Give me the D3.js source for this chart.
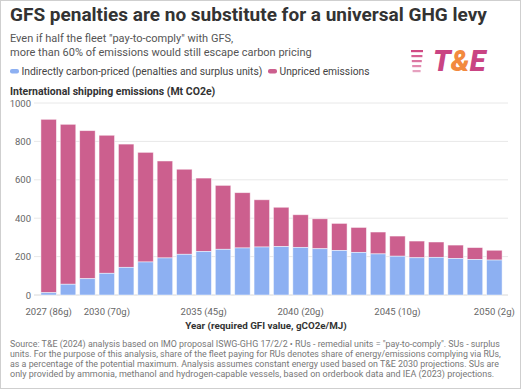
<!DOCTYPE html>
<html>
<head>
<meta charset="utf-8">
<script src="https://cdn.jsdelivr.net/npm/d3@7"></script>
<style>
  body { margin: 0; background: #fff; }
  svg { font-family: Roboto, "Noto Sans", sans-serif; }
</style>
</head>
<body>
<div id="chart"></div>
<script>
// Chart values
const years = d3.range(2027, 2051);
const gfiLabels = { 2027: "86g", 2030: "70g", 2035: "45g", 2040: "20g", 2045: "10g", 2050: "2g" };
const priced = [12, 56, 85, 113, 144, 172, 193, 212, 227, 238, 245, 250,
                252, 248, 241, 232, 222, 214, 202, 194, 196, 190, 185, 182];
const totals = [915, 889, 856, 832, 786, 743, 698, 655, 609, 571, 533, 496,
                457, 418, 397, 373, 352, 328, 307, 281, 276, 260, 247, 233];
const yTicks = [0, 200, 400, 600, 800, 1000];

const colors = { priced: "#8db0f2", unpriced: "#cc5f8e" };

const width = 521, height = 389;
const margin = { top: 103, right: 13, bottom: 94, left: 36 };

const svg = d3.select("#chart")
    .append("svg")
    .attr("width", width)
    .attr("height", height);

// frame
svg.append("rect")
    .attr("x", 0.5).attr("y", 0.5)
    .attr("width", width - 1).attr("height", height - 1)
    .attr("fill", "#fff")
    .attr("stroke", "#cfcfcf");

// shrink the font of a text until it fits a target width
function fitText(sel, w) {
    const len = sel.node().getComputedTextLength();
    if (len > w) {
        const fs = +sel.attr("font-size");
        sel.attr("font-size", (fs * w / len).toFixed(2));
    }
}

// Title and subtitle
svg.append("text")
    .attr("x", 10).attr("y", 21)
    .attr("font-size", 19).attr("font-weight", 700)
    .attr("fill", "#333")
    .text("GFS penalties are no substitute for a universal GHG levy");

["Even if half the fleet \"pay-to-comply\" with GFS,",
 "more than 60% of emissions would still escape carbon pricing"].forEach((t, i) => {
    svg.append("text")
        .attr("x", 10).attr("y", 42 + i * 13.5)
        .attr("font-size", 11)
        .attr("fill", "#555")
        .text(t);
});

// Legend
const legend = [
    { label: "Indirectly carbon-priced (penalties and surplus units)", color: colors.priced, x: 10, w: 241 },
    { label: "Unpriced emissions", color: colors.unpriced, x: 268, w: 90 }
];
legend.forEach(l => {
    svg.append("rect")
        .attr("x", l.x).attr("y", 69)
        .attr("width", 9).attr("height", 4.5)
        .attr("rx", 2)
        .attr("fill", l.color);
    const t = svg.append("text")
        .attr("x", l.x + 11.5).attr("y", 75)
        .attr("font-size", 11)
        .attr("fill", "#444")
        .text(l.label);
    fitText(t, l.w);
});

// T&E logo
const logo = svg.append("g").attr("transform", "translate(411,48)");
[[0, 12], [5, 11], [10, 10], [15, 9], [20, 8]].forEach(([dy, w], i) => {
    logo.append("rect")
        .attr("x", 12 - w - dy * 0.12).attr("y", dy + 2)
        .attr("width", w).attr("height", 2.2)
        .attr("fill", "#d04a84")
        .attr("opacity", 1 - i * 0.12);
});
const logoText = logo.append("text")
    .attr("x", 22).attr("y", 23)
    .attr("font-size", 29).attr("font-weight", 900)
    .attr("font-style", "italic");
logoText.append("tspan").attr("fill", "#c94483").text("T");
logoText.append("tspan").attr("fill", "#f28a3f").text("&");
logoText.append("tspan").attr("fill", "#c94483").text("E");

// Axis title
svg.append("text")
    .attr("x", 10).attr("y", 95)
    .attr("font-size", 10.5).attr("font-weight", 700)
    .attr("fill", "#333")
    .text("International shipping emissions (Mt CO2e)");

const innerW = width - margin.left - margin.right;
const innerH = 295 - margin.top;

const g = svg.append("g")
    .attr("transform", "translate(" + margin.left + "," + margin.top + ")");

const x = d3.scaleBand()
    .domain(years)
    .range([2, innerW - 3])
    .paddingInner(0.2)
    .paddingOuter(0.15);

const y = d3.scaleLinear()
    .domain([0, 1000])
    .range([innerH, 0]);

// Grid
g.selectAll(".grid")
    .data(yTicks)
    .enter()
    .append("line")
    .attr("x1", -2).attr("x2", innerW)
    .attr("y1", d => y(d)).attr("y2", d => y(d))
    .attr("stroke", d => d === 0 ? "#d8d8d8" : "#e8e8e8")
    .attr("stroke-width", 1);

// Y axis labels
const yAxis = g.append("g")
    .call(d3.axisLeft(y).tickValues(yTicks).tickFormat(d3.format("d")).tickSize(0).tickPadding(5));
yAxis.select(".domain").remove();
yAxis.selectAll("text")
    .attr("font-size", 9.5)
    .attr("font-family", "Roboto, sans-serif")
    .attr("fill", "#666");

const rows = years.map((yr, i) => ({ year: yr, priced: priced[i], total: totals[i] }));

// Unpriced (top segment)
g.selectAll(".unpriced")
    .data(rows)
    .enter()
    .append("rect")
    .attr("class", "unpriced")
    .attr("x", d => x(d.year))
    .attr("width", x.bandwidth())
    .attr("y", d => y(d.total))
    .attr("height", d => y(d.priced) - y(d.total))
    .attr("fill", colors.unpriced)
    .attr("stroke", "#fff")
    .attr("stroke-opacity", 0.6)
    .attr("stroke-width", 0.8);

// Priced (bottom segment)
g.selectAll(".priced")
    .data(rows)
    .enter()
    .append("rect")
    .attr("class", "priced")
    .attr("x", d => x(d.year))
    .attr("width", x.bandwidth())
    .attr("y", d => y(d.priced))
    .attr("height", d => y(0) - y(d.priced))
    .attr("fill", colors.priced)
    .attr("stroke", "#fff")
    .attr("stroke-opacity", 0.6)
    .attr("stroke-width", 0.8);

// X axis labels
const xAxis = g.append("g")
    .attr("transform", "translate(0," + innerH + ")")
    .call(d3.axisBottom(x)
        .tickValues(Object.keys(gfiLabels).map(Number))
        .tickFormat(d => d + " (" + gfiLabels[d] + ")")
        .tickSize(0).tickPadding(13));
xAxis.select(".domain").remove();
xAxis.selectAll("text")
    .attr("font-size", 9.5)
    .attr("font-family", "Roboto, sans-serif")
    .attr("fill", "#666");

svg.append("text")
    .attr("x", 266).attr("y", 329)
    .attr("text-anchor", "middle")
    .attr("font-size", 9.8).attr("font-weight", 700)
    .attr("fill", "#333")
    .text("Year (required GFI value, gCO2e/MJ)");

// Source note
const notes = [
    "Source: T&E (2024) analysis based on IMO proposal ISWG-GHG 17/2/2 \u2022 RUs - remedial units = \"pay-to-comply\". SUs - surplus",
    "units. For the purpose of this analysis, share of the fleet paying for RUs denotes share of energy/emissions complying via RUs,",
    "as a percentage of the potential maximum. Analysis assumes constant energy used based on T&E 2030 projections. SUs are",
    "only provided by ammonia, methanol and hydrogen-capable vessels, based on orderbook data and IEA (2023) projections."
];
const noteWidths = [489, 490, 489, 483];
notes.forEach((t, i) => {
    const n = svg.append("text")
        .attr("x", 10).attr("y", 346.5 + i * 10)
        .attr("font-size", 9.4)
        .attr("fill", "#777")
        .text(t);
    fitText(n, noteWidths[i]);
});
</script>
</body>
</html>
